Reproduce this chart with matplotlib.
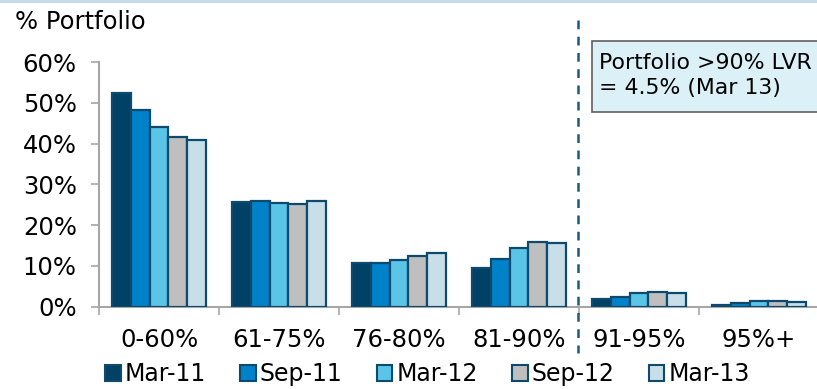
import numpy as np
import matplotlib
matplotlib.use("Agg")
import matplotlib.pyplot as plt
from matplotlib.patches import Rectangle
from matplotlib.lines import Line2D

# LVR bands and share of portfolio (%) per period
categories = ['0-60%', '61-75%', '76-80%', '81-90%', '91-95%', '95%+']
periods = ['Mar-11', 'Sep-11', 'Mar-12', 'Sep-12', 'Mar-13']
mar11 = [52.5, 25.7, 10.6, 9.5, 1.8, 0.4]
sep11 = [48.3, 25.8, 10.7, 11.7, 2.5, 1.0]
mar12 = [44.0, 25.5, 11.4, 14.4, 3.3, 1.3]
sep12 = [41.7, 25.3, 12.4, 15.9, 3.6, 1.4]
mar13 = [40.9, 25.8, 13.2, 15.6, 3.4, 1.2]
series = [mar11, sep11, mar12, sep12, mar13]
colors = ['#004165', '#0082ca', '#5bc5e8', '#bfbfbf', '#c8dfea']
edge = '#0d4a6d'

W, H = 817, 389
fs = 17.5
fig = plt.figure(figsize=(W / 100, H / 100), dpi=100)
plt.rcParams['font.family'] = ['DejaVu Sans']

ax = fig.add_axes([99 / W, (H - 306.7) / H, 720 / W, 244.7 / H])
ax.patch.set_alpha(0)

x = np.arange(len(categories))
bw = 0.157
for i, (vals, c) in enumerate(zip(series, colors)):
    ax.bar(x + (i - 2) * bw, vals, width=bw, color=c, edgecolor=edge,
           linewidth=1.6, label=periods[i], zorder=3)

ax.set_xlim(-0.5, len(categories) - 0.5)
ax.set_ylim(0, 60)
ax.set_yticks(np.arange(0, 61, 10))
ax.set_yticklabels([f'{v}%' for v in range(0, 61, 10)], fontsize=fs)
ax.set_xticks(x)
ax.set_xticklabels(categories, fontsize=fs)
ax.set_xticks(np.arange(-0.5, len(categories), 1), minor=True)
ax.tick_params(axis='x', which='major', length=0, pad=15)
ax.tick_params(axis='x', which='minor', length=6, color='#a6a6a6', width=1.2)
ax.tick_params(axis='y', length=6, color='#a6a6a6', width=1.2, pad=10)
for s in ['top', 'right']:
    ax.spines[s].set_visible(False)
for s in ['left', 'bottom']:
    ax.spines[s].set_color('#a6a6a6')
    ax.spines[s].set_linewidth(1.5)

fig.text(15 / W, 1 - 22 / H, '% Portfolio', fontsize=fs, va='center', ha='left')

# light rule along the top edge
fig.add_artist(Line2D([0, 1], [1 - 1 / H, 1 - 1 / H], color='#c5dbe8', lw=3))

# dashed divider between <=90% and >90% LVR
fig.add_artist(Line2D([578 / W, 578 / W], [1 - 20 / H, 1 - 353 / H],
                      color='#1a5a86', lw=1.8, dashes=(3.5, 3)))

# annotation box
fig.add_artist(Rectangle((592 / W, 1 - 112 / H), 240 / W, 71 / H,
                         facecolor='#dcf0f8', edgecolor='#606060', lw=1.2))
fig.text(599 / W, 1 - 63 / H, 'Portfolio >90% LVR', fontsize=15.8, va='center', ha='left')
fig.text(599 / W, 1 - 88 / H, '= 4.5% (Mar 13)', fontsize=15.8, va='center', ha='left')

handles = [Rectangle((0, 0), 1, 1, facecolor=c, edgecolor=edge, lw=1.5) for c in colors]
fig.legend(handles, periods, loc='center left', bbox_to_anchor=(105 / W, 1 - 374 / H),
           ncol=5, frameon=False, fontsize=17, handlelength=0.67, handleheight=0.67,
           handletextpad=0.16, columnspacing=1.45, borderpad=0, borderaxespad=0)

fig.savefig('out.png', dpi=100)
